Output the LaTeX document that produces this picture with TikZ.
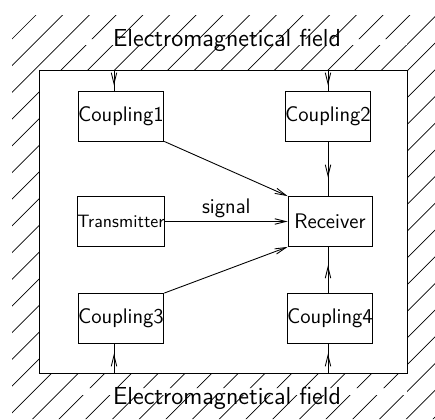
\documentclass[tikz,border=0pt]{standalone}
\usetikzlibrary{arrows.meta,decorations.markings}

\begin{document}
\begin{tikzpicture}[
    x=0.02cm, y=-0.02cm,
    line width=0.5pt,
    font=\sffamily\fontsize{12}{14}\selectfont,
    block/.style = { draw, fill=white, minimum width=1.68cm, minimum height=1cm, inner sep=0pt },
    field/.style = { inner sep=1pt, font=\sffamily\fontsize{14}{16}\selectfont },
    tip/.style = { -{Straight Barb[length=2.2mm, width=1.1mm]} },
    midarrow/.style = { postaction={decorate},
        decoration={markings, mark=at position #1 with {\arrow{Straight Barb[length=2.2mm, width=1.1mm]}}} },
    ]

    \useasboundingbox (0,0) rectangle (435,419);

    % hatched field around the box
    \begin{scope}[even odd rule]
      \clip (12,15) rectangle (435,419)
            (39,70) rectangle (407,373)
            (65,39) rectangle (407,45)
            (65,388) rectangle (407,395);
      \foreach \k in {0,...,31} {
        \pgfmathsetmacro{\c}{51+26.7*\k}
        \draw[line width=0.4pt] (\c+20,-20) -- (\c-480,480);
      }
    \end{scope}

    \node[draw, minimum width=7.36cm, minimum height=6.06cm, inner sep=0pt] (box) at (223,221.5) {};

    \node[field] (fieldtop) at (227,40) {Electromagnetical field};
    \node[field] (fieldbot) at (227,398) {Electromagnetical field};

    \node[block] (C1) at (121,116) {Coupling1};
    \node[block] (C2) at (328,116) {Coupling2};
    \node[block, font=\sffamily\fontsize{10.2}{12}\selectfont] (Tx) at (121,221.5) {Transmitter};
    \node[block] (Rx) at (330,221.5) {Receiver};
    \node[block] (C3) at (121,318.5) {Coupling3};
    \node[block] (C4) at (330,318.5) {Coupling4};

    \coordinate (in1) at (114,70);
    \coordinate (in2) at (328,70);
    \coordinate (in3) at (114,373);
    \coordinate (in4) at (328,373);

    % field couplings
    \draw[midarrow=0.75] (in1) -- (in1 |- C1.north);
    \draw[midarrow=0.75] (in2) -- (in2 |- C2.north);
    \draw[midarrow=0.67] (in3) -- (in3 |- C3.south);
    \draw[midarrow=0.67] (in4) -- (in4 |- C4.south);

    \draw[midarrow=0.66] (C2.south) -- (C2.south |- Rx.north);
    \draw[midarrow=0.6] (in4 |- C4.north) -- (in4 |- Rx.south);

    \draw[tip] (C1.south east) -- (Rx.north west);
    \draw[tip] (C3.north east) -- (Rx.south west);
    \draw[tip] (Tx.east) -- node[above, inner sep=2pt] {signal} (Rx.west);

  \end{tikzpicture}
\end{document}
